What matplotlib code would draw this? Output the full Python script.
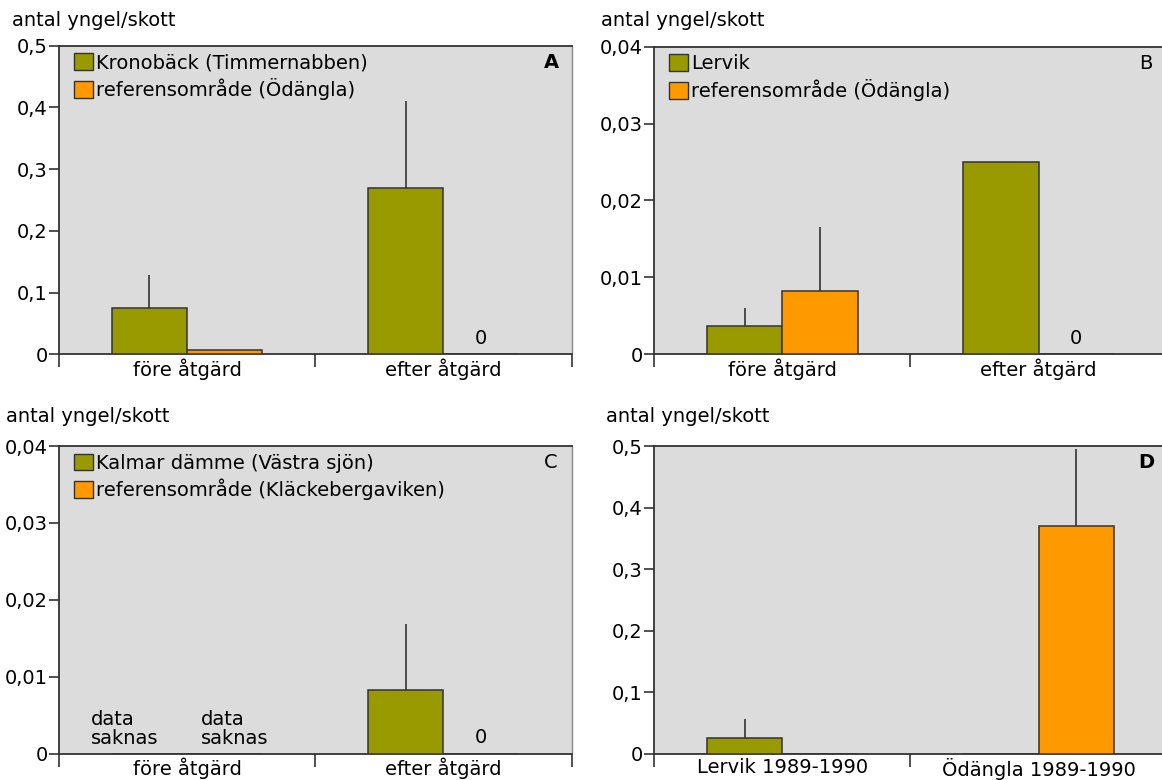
import numpy as np
import matplotlib.pyplot as plt
from matplotlib.patches import Patch

plt.rcParams['font.family'] = ['DejaVu Sans']
FS = 14

GREEN = '#999900'
ORANGE = '#ff9900'
BG = '#dcdcdc'
EDGE = '#333333'

# antal yngel/skott, grön = åtgärdsområde, orange = referensområde
panel_ids = ['A', 'B', 'C', 'D']

green_vals = {
    'A': [0.076, 0.27],
    'B': [0.0037, 0.025],
    'C': [np.nan, 0.0083],
    'D': [0.025, np.nan],
}
green_err = {
    'A': [0.053, 0.14],
    'B': [0.0024, 0.0],
    'C': [0.0, 0.0085],
    'D': [0.031, 0.0],
}
orange_vals = {
    'A': [0.007, 0.0],
    'B': [0.0083, 0.0],
    'C': [np.nan, 0.0],
    'D': [np.nan, 0.37],
}
orange_err = {
    'A': [0.0, 0.0],
    'B': [0.0083, 0.0],
    'C': [0.0, 0.0],
    'D': [0.0, 0.125],
}

legend_labels = {
    'A': ['Kronobäck (Timmernabben)', 'referensområde (Ödängla)'],
    'B': ['Lervik', 'referensområde (Ödängla)'],
    'C': ['Kalmar dämme (Västra sjön)', 'referensområde (Kläckebergaviken)'],
    'D': None,
}
group_labels = {
    'A': ['före åtgärd', 'efter åtgärd'],
    'B': ['före åtgärd', 'efter åtgärd'],
    'C': ['före åtgärd', 'efter åtgärd'],
    'D': ['Lervik 1989-1990', 'Ödängla 1989-1990'],
}
y_max = {'A': 0.5, 'B': 0.04, 'C': 0.04, 'D': 0.5}
y_ticks = {
    'A': [0, 0.1, 0.2, 0.3, 0.4, 0.5],
    'B': [0, 0.01, 0.02, 0.03, 0.04],
    'C': [0, 0.01, 0.02, 0.03, 0.04],
    'D': [0, 0.1, 0.2, 0.3, 0.4, 0.5],
}
y_ticklabels = {
    'A': ['0', '0,1', '0,2', '0,3', '0,4', '0,5'],
    'B': ['0', '0,01', '0,02', '0,03', '0,04'],
    'C': ['0', '0,01', '0,02', '0,03', '0,04'],
    'D': ['0', '0,1', '0,2', '0,3', '0,4', '0,5'],
}
# "data saknas" for the missing before-values in C
missing_note = {'C': [0.126, 0.555]}
letter_weight = {'A': 'bold', 'B': 'normal', 'C': 'normal', 'D': 'bold'}

W, H = 1162, 780
fig = plt.figure(figsize=(W / 100, H / 100), dpi=100)

# axes rectangles in pixels: left, top, width, height
rects = {
    'A': (58.8, 45.7, 512.8, 308.8),
    'B': (654.0, 46.5, 512.8, 308.0),
    'C': (58.8, 446.0, 512.8, 307.7),
    'D': (654.0, 446.0, 512.8, 307.7),
}
ylab_pos = {'A': (12, 20), 'B': (601, 20), 'C': (6, 417), 'D': (606, 417)}

bw = 0.294
groups = np.array([0.5, 1.5])

for pid in panel_ids:
    l, t, w, h = rects[pid]
    ax = fig.add_axes([l / W, 1 - (t + h) / H, w / W, h / H])
    ax.set_facecolor(BG)
    ax.set_xlim(0, 2)
    ax.set_ylim(0, y_max[pid])

    g = np.array(green_vals[pid])
    o = np.array(orange_vals[pid])
    xg = groups - bw / 2
    xo = groups + bw / 2

    ax.bar(xg, np.nan_to_num(g), width=bw, color=GREEN, edgecolor=EDGE,
           linewidth=1.1, zorder=3)
    ax.bar(xo, np.nan_to_num(o), width=bw, color=ORANGE, edgecolor=EDGE,
           linewidth=1.1, zorder=3)

    # one-sided error bars, upper part only
    ge = np.array(green_err[pid])
    oe = np.array(orange_err[pid])
    for xs, vals, errs in ((xg, g, ge), (xo, o, oe)):
        m = (errs > 0) & ~np.isnan(vals)
        ax.vlines(xs[m], vals[m], vals[m] + errs[m], color=EDGE,
                  linewidth=1.2, zorder=2)

    # zero values are written out
    for xs, vals in ((xg, g), (xo, o)):
        for x, v in zip(xs, vals):
            if v == 0:
                ax.annotate('0', (x, 0), xytext=(0, 5), textcoords='offset points',
                            ha='center', va='bottom', fontsize=FS, zorder=4)

    if pid in missing_note:
        for x in missing_note[pid]:
            ax.annotate('data\nsaknas', (x, 0), xytext=(0, 4),
                        textcoords='offset points', ha='left', va='bottom',
                        fontsize=FS, linespacing=1.0, zorder=4)

    # y axis
    ax.set_yticks(y_ticks[pid])
    ax.set_yticklabels(y_ticklabels[pid], fontsize=FS)
    ax.tick_params(axis='y', length=7, width=1.2, color=EDGE, pad=1)

    # x axis: boundary ticks pointing down, labels at group centres
    ax.set_xticks([0, 1, 2])
    ax.set_xticklabels(['', '', ''])
    ax.tick_params(axis='x', which='major', length=9, width=1.2, color=EDGE)
    ax.set_xticks(groups, minor=True)
    ax.set_xticklabels(group_labels[pid], minor=True, fontsize=FS)
    ax.tick_params(axis='x', which='minor', length=0, pad=3)

    for side in ('left', 'bottom', 'top'):
        ax.spines[side].set_color(EDGE)
        ax.spines[side].set_linewidth(1.3)
    ax.spines['right'].set_color('#888888')
    ax.spines['right'].set_linewidth(1.0)

    if legend_labels[pid]:
        handles = [Patch(facecolor=GREEN, edgecolor=EDGE, linewidth=1.0),
                   Patch(facecolor=ORANGE, edgecolor=EDGE, linewidth=1.0)]
        ax.legend(handles, legend_labels[pid], loc='upper left',
                  bbox_to_anchor=(0.030, 0.975), frameon=False, fontsize=FS,
                  handlelength=0.95, handleheight=0.95, handletextpad=0.15,
                  labelspacing=0.3, borderpad=0, borderaxespad=0)

    ax.text(0.96, 0.945, pid, transform=ax.transAxes, ha='center', va='center',
            fontsize=FS, fontweight=letter_weight[pid])

    lx, ly = ylab_pos[pid]
    fig.text(lx / W, 1 - ly / H, 'antal yngel/skott', ha='left', va='center',
             fontsize=FS)

fig.savefig('out.png', dpi=100)
